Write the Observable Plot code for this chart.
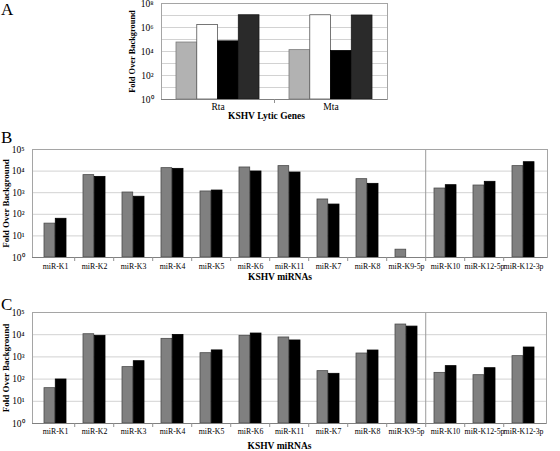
<!DOCTYPE html>
<html><head><meta charset="utf-8">
<script src="https://cdn.jsdelivr.net/npm/d3@7"></script>
<script src="https://cdn.jsdelivr.net/npm/@observablehq/plot@0.6"></script>
<style>
body{margin:0;background:#fff;}
#wrap{position:relative;width:560px;height:451px;background:#fff;overflow:hidden;font-family:"Liberation Serif",serif;}
.panel{position:absolute;left:0;}
.plabel{position:absolute;left:1px;font-family:"Liberation Serif",serif;font-size:17px;line-height:1;color:#000;}
.pmir g[aria-label="x-axis tick label"] text{font-size:7.8px;}
.plyt g[aria-label="x-axis tick label"] text{font-size:9.5px;}
</style></head><body>
<div id="wrap"></div>
<script>
// ---- Panel A data ----
const lyticGenes = ["Rta", "Mta"];
const lyticS1 = [56000, 13000];      // light gray
const lyticS2 = [1600000, 10500000];  // white
const lyticS3 = [70000, 11000];      // black
const lyticS4 = [10500000, 10000000]; // dark gray
const lyticTicks = [1, 1e2, 1e4, 1e6, 1e8];

// ---- Panels B & C data ----
const mirnas = ["miR-K1","miR-K2","miR-K3","miR-K4","miR-K5","miR-K6","miR-K11","miR-K7","miR-K8","miR-K9-5p","miR-K10","miR-K12-5p","miR-K12-3p"];
const bGray  = [37, 6500, 1020, 13700, 1140, 14700, 17000, 485, 4230, 2.3, 1560, 2150, 17000];
const bBlack = [62, 5400, 650, 12700, 1260, 9600, 8600, 283, 2570, null, 2230, 3190, 25800];
const cGray  = [39, 10500, 346, 6500, 1470, 8900, 7500, 228, 1420, 28700, 191, 150, 1080];
const cBlack = [96, 8900, 640, 9800, 1960, 11300, 5500, 173, 1940, 23200, 384, 310, 2650];
const mirTicks = [1, 10, 100, 1e3, 1e4, 1e5];

const yTitle = "Fold Over Background";
const supDigits = {"0":"⁰","1":"¹","2":"²","3":"³","4":"⁴","5":"⁵","6":"⁶","7":"⁷","8":"⁸","9":"⁹"};
const sup = d => "10" + String(Math.round(Math.log10(d))).split("").map(c => supDigits[c]).join("");

function panel(cfg) {
  const {cats, series, width, height, mL, mR, mT, mB, yMax, labelTicks, gridTicks, cls,
         xTitle, titleDy, titleDx, tickPad, yTitleDx, yTitleSize, padIn, sep} = cfg;
  const n = cats.length;
  const step = (width - mL - mR) / n;
  const bw = step * (1 - padIn);
  const k = series.length;
  const marks = [
    Plot.ruleY(gridTicks, {y: d => d, stroke: "#d2d2d2", strokeWidth: 1})
  ];
  if (sep) marks.push(Plot.ruleX([sep], {x: d => d, dx: -step / 2, stroke: "#9a9a9a", strokeWidth: 1}));
  series.forEach((s, i) => {
    const rows = cats.map((c, j) => ({c, v: s.values[j]})).filter(r => r.v != null);
    marks.push(Plot.barY(rows, {
      x: "c", y1: 1, y2: "v",
      fill: s.fill, stroke: s.stroke, strokeWidth: 0.8,
      insetLeft: i * bw / k, insetRight: (k - 1 - i) * bw / k
    }));
  });
  marks.push(
    Plot.frame({stroke: "#a5a5a5", strokeWidth: 1}),
    Plot.ruleY([1], {stroke: "#808080", strokeWidth: 1}),
    Plot.ruleX(cats.slice(1), {x: d => d, dx: -step / 2, stroke: "#909090", insetTop: height - mT - mB, insetBottom: -4}),
    Plot.axisY({ticks: labelTicks, tickFormat: sup, tickSize: 0, tickPadding: 8, label: null, fontSize: 9.5}),
    Plot.axisX({tickSize: 0, tickPadding: tickPad, label: null}),
    Plot.text([xTitle], {text: d => d, frameAnchor: "bottom", dy: titleDy, dx: titleDx, fontWeight: "bold", fontSize: 9.5}),
    Plot.text([yTitle], {text: d => d, frameAnchor: "left", textAnchor: "middle", rotate: -90, dx: yTitleDx, fontWeight: "bold", fontSize: yTitleSize})
  );
  return Plot.plot({
    width, height, className: cls,
    marginLeft: mL, marginRight: mR, marginTop: mT, marginBottom: mB,
    style: {fontFamily: "Liberation Serif, serif", fontSize: "9.5px", color: "#000", background: "transparent"},
    x: {type: "band", domain: cats, paddingInner: padIn, paddingOuter: padIn / 2},
    y: {type: "log", domain: [1, yMax], range: [height - mB, mT]},
    marks
  });
}

const wrap = document.getElementById("wrap");
function place(svg, top) {
  const d = document.createElement("div");
  d.className = "panel";
  d.style.top = top + "px";
  d.appendChild(svg);
  wrap.appendChild(d);
}
function letter(t, top) {
  const s = document.createElement("span");
  s.className = "plabel";
  s.style.top = top + "px";
  s.textContent = t;
  wrap.appendChild(s);
}

place(panel({
  cats: lyticGenes, cls: "plyt",
  series: [
    {values: lyticS1, fill: "#b2b2b2", stroke: "#7a7a7a"},
    {values: lyticS2, fill: "#ffffff", stroke: "#555555"},
    {values: lyticS3, fill: "#000000", stroke: "#000000"},
    {values: lyticS4, fill: "#2a2a2a", stroke: "#1a1a1a"}
  ],
  width: 560, height: 126, mL: 161, mR: 173, mT: 3, mB: 27, yMax: 1e8,
  labelTicks: lyticTicks, gridTicks: d3.range(0, 9).map(e => 10 ** e),
  xTitle: "KSHV Lytic Genes", titleDy: 19, titleDx: -8, tickPad: 4,
  yTitleDx: -29.5, yTitleSize: 8.4, padIn: 0.265, sep: null
}), 0);

place(panel({
  cats: mirnas, cls: "pmir",
  series: [
    {values: bGray, fill: "#808080", stroke: "#4a4a4a"},
    {values: bBlack, fill: "#000000", stroke: "#000000"}
  ],
  width: 560, height: 150, mL: 32, mR: 13, mT: 9, mB: 33, yMax: 1e5,
  labelTicks: mirTicks, gridTicks: mirTicks,
  xTitle: "KSHV miRNAs", titleDy: 22, titleDx: -10, tickPad: 6,
  yTitleDx: -26, yTitleSize: 9, padIn: 0.43, sep: "miR-K10"
}), 140);

place(panel({
  cats: mirnas, cls: "pmir",
  series: [
    {values: cGray, fill: "#808080", stroke: "#4a4a4a"},
    {values: cBlack, fill: "#000000", stroke: "#000000"}
  ],
  width: 560, height: 151, mL: 32, mR: 14, mT: 12, mB: 28, yMax: 1e5,
  labelTicks: mirTicks, gridTicks: mirTicks,
  xTitle: "KSHV miRNAs", titleDy: 25, titleDx: -10, tickPad: 5,
  yTitleDx: -26, yTitleSize: 9, padIn: 0.43, sep: "miR-K10"
}), 300);

letter("A", 1);
letter("B", 129);
letter("C", 296);
</script>
</body></html>
